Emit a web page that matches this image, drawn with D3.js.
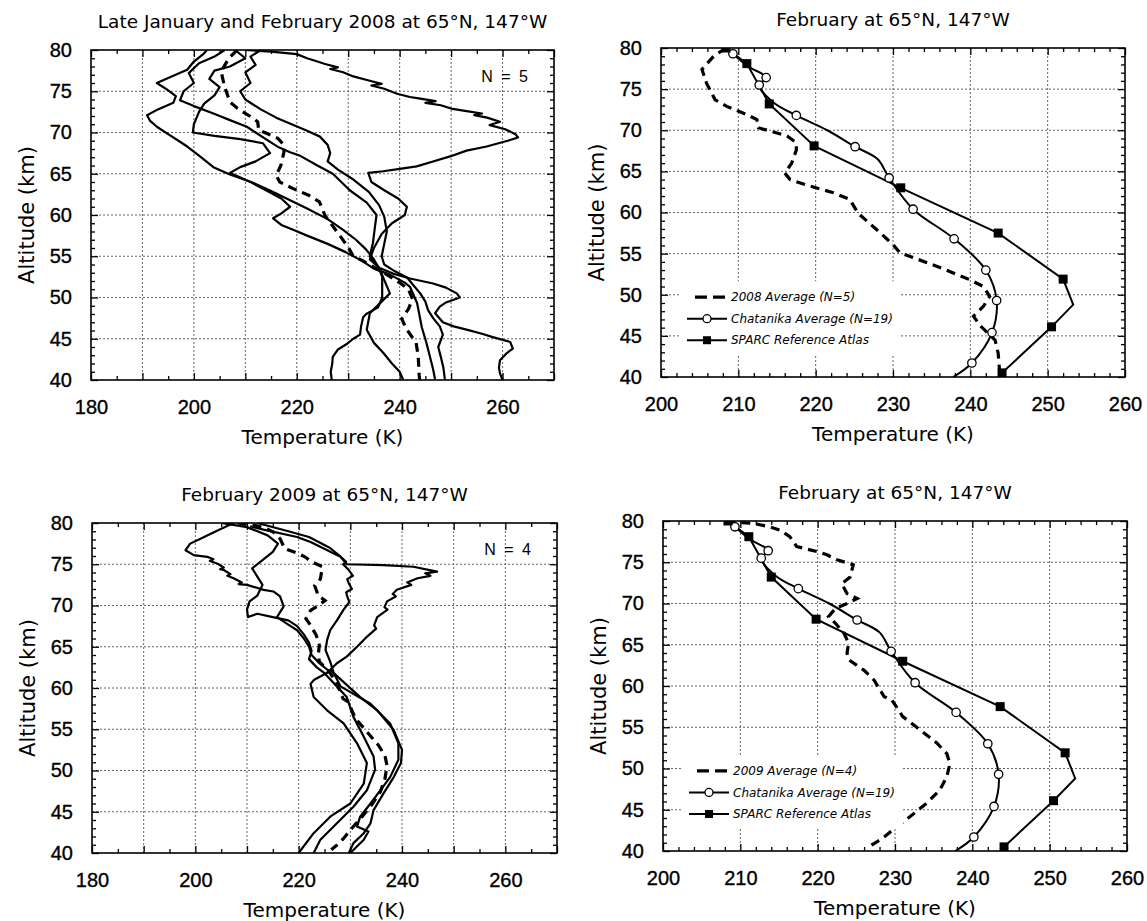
<!DOCTYPE html>
<html>
<head>
<meta charset="utf-8">
<script src="https://cdn.jsdelivr.net/npm/d3@7"></script>
<style>
  body { margin: 0; background: #fff; }
  text { font-family: "Comic Sans MS", "DejaVu Sans", sans-serif; fill: #000; }
  .num text, text.num { font-family: "Liberation Sans", Arial, sans-serif; }
</style>
</head>
<body>
<svg id="chart" width="1147" height="921"></svg>
<script>
// ---- data: [temperature K, altitude km] ----
// late Jan / Feb 2008 individual profiles
const prof08a = [[210,80],[215,79.8],[220,79.5],[222,79],[224,78.6],[225.5,78.3],[228,77.9],[226.5,77.7],[229,77.3],[231,76.8],[234,76.3],[236.5,75.9],[234.5,75.7],[237,75.3],[239.5,74.7],[242,74.3],[244,74.1],[247,73.8],[245,73.6],[248,73.3],[250,72.9],[253,72.6],[256,72.3],[254.5,72.1],[257,71.8],[259.5,71.3],[257.5,70.9],[260.5,70.4],[262.5,69.8],[263,69.4],[261,69],[256.9,68.3],[253,67.8],[249.8,67.1],[246,66.4],[243.3,65.9],[240,65.6],[236.8,65.3],[233.9,65.1],[234.5,64],[237,63],[239.7,62],[241.4,61],[241,60],[238.5,59],[236.5,57.7],[235,56],[234.2,54.6],[236,53.6],[238.7,52.9],[242,52.3],[246.5,51.7],[249,51.2],[251.1,50.5],[251.7,50],[249,49.4],[247.8,48.9],[246.9,48.1],[248.4,47],[250.5,46.5],[253,46.1],[256,45.6],[258.1,45.2],[261.5,44.6],[262,43.8],[260.9,43.3],[259.5,42.4],[259.3,41.5],[259.5,40.8],[260,40]];
const prof08b = [[202.5,80],[202,79.6],[200,78.6],[198.7,77.6],[195,76.6],[192.8,76],[194.8,75.2],[196.5,74.4],[196,73.6],[193,72.8],[190.9,72.1],[191.5,71.4],[192.8,70.7],[195,69.8],[197,69],[198.7,68.3],[201,67.2],[203.8,65.8],[207,64.9],[211.5,63.9],[215,62.9],[218.7,61.8],[222,60.8],[226,59.5],[229,58.2],[231.5,57],[233.5,55.8],[235,54.6],[236,53.5],[236.6,52.5],[236.6,51],[236.6,50],[235.8,48.8],[233.5,48],[232.9,47.6],[232.5,46.5],[232.3,45.5],[231,45],[229.8,44.4],[228,43.7],[227,42.8],[226.9,42],[226.6,41],[226.8,40]];
const prof08c = [[206,80],[204,79.2],[201,78.4],[199,77.2],[200,76],[198,75],[197.3,73.9],[200,73.2],[203.8,72.3],[207,71.5],[210.3,70.7],[212,70],[214.2,69.1],[216.5,68.2],[218.7,67.6],[220.6,67.2],[224,66],[227,65],[230.3,63],[233.6,61.5],[235.5,60],[235.2,58.6],[234.8,56.6],[234.2,55],[236,53.6],[238.1,50.5],[236,49.2],[234.2,48.1],[233.6,46.1],[235,44.5],[236.8,43.3],[238.5,42],[240,41],[240.7,40]];
const prof08d = [[208,80],[210,79],[207,78],[204,77.5],[203,76.5],[205,75.5],[204,74.5],[202,73.5],[201,72.5],[200,71],[199.8,70],[204,69.6],[209,69.2],[213.4,68.7],[214.8,67.5],[212,66.5],[209,65.8],[207,65.1],[208.5,64.7],[211,64],[214,63],[217,62],[218.7,61],[217,60.2],[215.4,59.6],[217,58.8],[219.3,58.2],[222,57.5],[226,56.5],[229.5,55.5],[232.5,54.5],[235,53.5],[238,52.8],[241,51.8],[242,51.3],[243.4,49.3],[244.3,46.4],[245.2,44.5],[245.9,42.8],[246.5,41.3],[246.9,40]];
const prof08e = [[213,80],[211,79.2],[212,78.2],[210,77.3],[211,76],[209,75],[210,74],[213,72.8],[216,71.8],[219,71],[222,70.2],[224.5,69.5],[226,68.5],[226.5,67.5],[226,66.5],[228,65.5],[231,64.3],[234,62.8],[236,61.2],[237,59.8],[237.5,58],[237,56.5],[236.5,55],[237,54],[239,53.2],[241.5,52.4],[242.5,51.6],[244,50.5],[245,49.5],[245.5,48.5],[246.5,47.5],[247.8,46.5],[248.4,45.5],[247.5,44],[248,42.8],[248.5,41.5],[248.8,40]];
const avg2008 = [[208.4,80],[206.8,79],[205.3,77.4],[205.9,75.7],[207,73.7],[208.5,72.9],[211.1,71.9],[212.4,71.3],[212.6,70.3],[214.1,69.9],[216.3,69.3],[217.5,68.5],[217.5,67.6],[216.9,66],[216,64.8],[216.7,64],[219.3,63.2],[222.3,62.4],[224.4,61.6],[225.5,59.9],[227.9,57.9],[230,56.1],[230.9,55.1],[234.4,53.9],[236.9,53],[240,51.8],[241.7,51],[242.5,49.8],[241.7,48.6],[240.4,47.4],[241.3,46.2],[243.2,44.5],[243.6,42.9],[243.8,40.5],[243.9,40]];

// February 2009 individual profiles
const prof09a = [[207.4,80],[204,79],[201,78.1],[199,77.5],[198.1,76.7],[199.7,76.1],[202.3,75.9],[203.5,75.6],[202.8,75.4],[204.2,75.1],[205.5,74.6],[204.8,74.4],[205.5,74.3],[206.8,73.8],[206.2,73.6],[207.4,73.3],[209,72.8],[208.4,72.6],[210,72.5],[213.2,71.9],[215.1,71.7],[216.4,71.1],[217.1,69.9],[215.8,68.6],[217.7,67.8],[219.7,67],[221,66],[222,65],[222.5,64],[224,63],[226,62],[223,61],[222.3,60.5],[222.9,58.9],[225.5,57.3],[228.7,55.7],[231.3,53.3],[233.2,50.9],[232.6,48.4],[230,46],[226.1,44.4],[222.9,42.4],[220,40]];
const prof09b = [[212,80],[218,79],[222,78.3],[226,77],[228,76],[229.3,75],[236.4,74.9],[242.2,74.7],[246.8,74.1],[244.5,73.9],[245.5,73.6],[243,73.3],[241,72.8],[241.8,72.5],[239,71.9],[238.2,71.4],[238.8,71.1],[237.1,70.5],[236.6,69.8],[237.2,69.5],[235.2,68.6],[234.6,67.6],[235,67.2],[233.2,66.2],[231.3,65],[229.3,63.8],[227.4,63],[226.1,62.2],[231.9,58.9],[235.2,57.3],[238.4,54.9],[240,52.5],[239.8,50.9],[238.4,49.2],[236.4,47.2],[234.5,45.2],[233.9,43.6],[232.6,42.4],[230.6,41.2],[229.7,40]];
const prof09c = [[205,80],[210,79.5],[214,78.5],[216,77.5],[215,76.5],[213,75.5],[211,74.5],[212,73.5],[213,72.5],[212,71.2],[210.5,70.5],[210,69.5],[210.2,68.6],[212,69],[215,68.6],[218,68.2],[219.7,67.5],[221,66.5],[222,65.5],[222.5,64.5],[222,63.5],[223.5,62.5],[225,61.8],[229.3,58.9],[230.6,56.5],[232.6,54.1],[234.5,51.7],[234.8,50.1],[233.2,47.6],[230.6,45.6],[227.4,43.6],[224.2,41.6],[222.9,40]];
const prof09d = [[210.6,79.6],[213.2,79.2],[219.7,78.3],[222.3,77.7],[228.1,75.9],[229.2,75.3],[228.6,75],[229.7,74.3],[230.5,73.6],[229.4,73.2],[229.7,72.7],[230.3,72],[229.2,71.6],[229.4,71.1],[229.8,70.4],[228.7,69.5],[227.4,68.2],[226.1,67],[225.5,65.8],[225.2,64.6],[226.1,63.2],[226.8,61.8],[228.1,60.2],[233.9,58.1],[237.7,55.7],[239.3,53.3],[239.3,51.3],[237.7,49.2],[235.8,47.6],[233.9,46],[231.9,44.4],[231.3,43.2],[233.5,42.6],[232.6,41.6],[230,40]];
const avg2009 = [[208.2,80],[210,79.8],[211.7,79.7],[213.8,79.3],[215.1,78.9],[216.4,78.1],[217.3,76.9],[219.9,76.3],[221.2,75.9],[222.5,75.3],[224.6,74.7],[224.2,73.2],[223.1,72.4],[223.8,71.2],[225.1,70.6],[223.8,70],[222.3,69.4],[221.4,68.4],[222.3,67.6],[223.4,66.4],[224,65.2],[223.8,64],[224,63.2],[226,61.9],[227.3,60.7],[228.6,58.7],[229.6,58.3],[231,56.3],[233.2,54.7],[235.4,53.1],[236.7,51.8],[237.1,50.6],[236.7,49],[235.8,47.4],[234.1,45.8],[232,44.2],[230.3,43],[228.6,41.7],[227.3,40.9],[226.3,40.4]];

// climatologies (same in both right-hand panels)
const chatanika = [[208.7,79.8],[209.3,79.3],[211.2,77.8],[213.6,76.4],[212.7,75.5],[214.5,73.4],[217.5,71.8],[221.5,70],[225.1,68],[228,66.5],[229.5,64.2],[232.6,60.4],[237.9,56.8],[242,53],[243.4,49.3],[242.8,45.4],[240.2,41.7],[237.8,40]];
const chatanikaMarks = [1, 3, 4, 6, 8, 10, 11, 12, 13, 14, 15, 16];
const sparc = [[208.4,80],[211.1,78.1],[214,73.2],[219.8,68.1],[231,63],[243.6,57.5],[252,51.9],[253.3,48.8],[250.5,46.1],[244.1,40.5],[243.8,40]];
const sparcMarks = [0, 1, 2, 3, 4, 5, 6, 8, 9];

const altTicks = [40, 45, 50, 55, 60, 65, 70, 75, 80];
const leftTempTicks = [180, 200, 220, 240, 260];
const rightTempTicks = [200, 210, 220, 230, 240, 250, 260];

// ---- layout ----
const svg = d3.select('#chart');

const panels = [
  { left: 91, top: 50, width: 463, height: 330, xDomain: [180, 270], labels: leftTempTicks, grid: 10, minor: 5,
    title: 'Late January and February 2008 at 65°N, 147°W', profiles: [prof08a, prof08b, prof08c, prof08d, prof08e], avg: avg2008, count: 'N = 5' },
  { left: 661, top: 48, width: 464, height: 329, xDomain: [200, 260], labels: rightTempTicks, grid: 10, minor: 2,
    title: 'February at 65°N, 147°W', avg: avg2008, legendName: '2008 Average (N=5)' },
  { left: 92, top: 523, width: 465, height: 330, xDomain: [180, 270], labels: leftTempTicks, grid: 10, minor: 5,
    title: 'February 2009 at 65°N, 147°W', profiles: [prof09a, prof09b, prof09c, prof09d], avg: avg2009, count: 'N = 4' },
  { left: 663, top: 521, width: 464, height: 330, xDomain: [200, 260], labels: rightTempTicks, grid: 10, minor: 2,
    title: 'February at 65°N, 147°W', avg: avg2009, legendName: '2009 Average (N=4)' }
];

panels.forEach(drawPanel);

function drawPanel(p) {
  const g = svg.append('g').attr('transform', `translate(${p.left},${p.top})`);
  const x = d3.scaleLinear().domain(p.xDomain).range([0, p.width]);
  const y = d3.scaleLinear().domain([40, 80]).range([p.height, 0]);

  const gridX = d3.range(p.xDomain[0] + p.grid, p.xDomain[1], p.grid);
  const gridY = d3.range(45, 80, 5);
  const minorX = d3.range(p.xDomain[0], p.xDomain[1] + 0.01, p.minor).filter(v => (v - p.xDomain[0]) % p.grid);
  const minorY = d3.range(40, 81, 1).filter(v => v % 5);
  const majorX = d3.range(p.xDomain[0], p.xDomain[1] + 0.01, p.grid);

  // dotted grid
  g.append('g').selectAll('line').data(gridX).join('line')
    .attr('x1', d => x(d)).attr('x2', d => x(d)).attr('y1', 0).attr('y2', p.height)
    .attr('stroke', '#666').attr('stroke-width', 1).attr('stroke-dasharray', '2,2');
  g.append('g').selectAll('line').data(gridY).join('line')
    .attr('y1', d => y(d)).attr('y2', d => y(d)).attr('x1', 0).attr('x2', p.width)
    .attr('stroke', '#666').attr('stroke-width', 1).attr('stroke-dasharray', '2,2');

  // ticks (inward, all four sides)
  const tickAxes = [
    [d3.axisBottom(x).tickValues(majorX).tickSize(-7), `translate(0,${p.height})`],
    [d3.axisBottom(x).tickValues(minorX).tickSize(-4), `translate(0,${p.height})`],
    [d3.axisTop(x).tickValues(majorX).tickSize(-7), 'translate(0,0)'],
    [d3.axisTop(x).tickValues(minorX).tickSize(-4), 'translate(0,0)'],
    [d3.axisLeft(y).tickValues(altTicks).tickSize(-7), 'translate(0,0)'],
    [d3.axisLeft(y).tickValues(minorY).tickSize(-4), 'translate(0,0)'],
    [d3.axisRight(y).tickValues(altTicks).tickSize(-7), `translate(${p.width},0)`],
    [d3.axisRight(y).tickValues(minorY).tickSize(-4), `translate(${p.width},0)`]
  ];
  tickAxes.forEach(([ax, tr]) => {
    const a = g.append('g').attr('transform', tr).call(ax.tickFormat(''));
    a.select('.domain').remove();
    a.selectAll('line').attr('stroke', '#000').attr('stroke-width', 1.3);
  });

  // tick labels
  const lx = g.append('g').attr('class', 'num').attr('transform', `translate(0,${p.height})`)
    .call(d3.axisBottom(x).tickValues(p.labels).tickSize(0).tickPadding(20).tickFormat(d3.format('d')));
  lx.select('.domain').remove();
  lx.selectAll('text').attr('font-size', 20).attr('stroke', '#000').attr('stroke-width', 0.35);
  const ly = g.append('g').attr('class', 'num')
    .call(d3.axisLeft(y).tickValues(altTicks).tickSize(0).tickPadding(19).tickFormat(d3.format('d')));
  ly.select('.domain').remove();
  ly.selectAll('text').attr('font-size', 20).attr('stroke', '#000').attr('stroke-width', 0.35);

  // frame
  g.append('rect').attr('width', p.width).attr('height', p.height)
    .attr('fill', 'none').attr('stroke', '#000').attr('stroke-width', 1.6);

  const line = d3.line().x(d => x(d[0])).y(d => y(d[1]));
  const clipId = 'clip' + p.left + p.top;
  g.append('clipPath').attr('id', clipId).append('rect')
    .attr('width', p.width).attr('height', p.height);
  const data = g.append('g').attr('clip-path', `url(#${clipId})`);

  if (p.profiles) {
    data.selectAll('path.prof').data(p.profiles).join('path')
      .attr('class', 'prof').attr('d', line)
      .attr('fill', 'none').attr('stroke', '#000').attr('stroke-width', 2.2).attr('stroke-linejoin', 'round');
  }
  data.append('path').datum(p.avg).attr('d', line)
    .attr('fill', 'none').attr('stroke', '#000').attr('stroke-width', 3.2).attr('stroke-dasharray', '9,6');

  if (!p.profiles) {
    const smooth = d3.line().x(d => x(d[0])).y(d => y(d[1])).curve(d3.curveCatmullRom);
    data.append('path').datum(chatanika).attr('d', smooth)
      .attr('fill', 'none').attr('stroke', '#000').attr('stroke-width', 2);
    data.append('path').datum(sparc).attr('d', line)
      .attr('fill', 'none').attr('stroke', '#000').attr('stroke-width', 2);
    data.selectAll('circle').data(chatanikaMarks.map(i => chatanika[i])).join('circle')
      .attr('cx', d => x(d[0])).attr('cy', d => y(d[1])).attr('r', 4.2)
      .attr('fill', '#fff').attr('stroke', '#000').attr('stroke-width', 1.3);
    data.selectAll('rect.sq').data(sparcMarks.map(i => sparc[i])).join('rect')
      .attr('class', 'sq')
      .attr('x', d => x(d[0]) - 4.5).attr('y', d => y(d[1]) - 4.5).attr('width', 9).attr('height', 9)
      .attr('fill', '#000');

    // legend
    const lg = g.append('g').attr('transform', `translate(0,${y(49.7)})`);
    lg.append('rect').attr('x', 20).attr('y', -16).attr('width', 220).attr('height', 74).attr('fill', '#fff');
    const rows = [
      { name: p.legendName, kind: 'dash' },
      { name: 'Chatanika Average (N=19)', kind: 'circle' },
      { name: 'SPARC Reference Atlas', kind: 'square' }
    ];
    rows.forEach((r, i) => {
      const ry = i * 21.5;
      if (r.kind === 'dash') {
        lg.append('line').attr('x1', 34).attr('x2', 66).attr('y1', ry).attr('y2', ry)
          .attr('stroke', '#000').attr('stroke-width', 3.2).attr('stroke-dasharray', '12,6');
      } else {
        lg.append('line').attr('x1', 26).attr('x2', 66).attr('y1', ry).attr('y2', ry)
          .attr('stroke', '#000').attr('stroke-width', 2);
        if (r.kind === 'circle') {
          lg.append('circle').attr('cx', 46).attr('cy', ry).attr('r', 4)
            .attr('fill', '#fff').attr('stroke', '#000').attr('stroke-width', 1.3);
        } else {
          lg.append('rect').attr('x', 42).attr('y', ry - 4).attr('width', 8).attr('height', 8).attr('fill', '#000');
        }
      }
      lg.append('text').attr('x', 70).attr('y', ry).attr('dy', '0.35em')
        .attr('font-size', 12).attr('font-style', 'italic').text(r.name);
    });
  }

  if (p.count) {
    g.append('text').attr('class', 'num').attr('x', p.width - 24).attr('y', 32)
      .attr('text-anchor', 'end').attr('font-size', 16).attr('letter-spacing', 2)
      .text(p.count);
  }

  // titles
  g.append('text').attr('x', p.width / 2).attr('y', -22).attr('text-anchor', 'middle')
    .attr('font-size', 18.5).text(p.title);
  g.append('text').attr('x', p.width / 2).attr('y', p.height + 64).attr('text-anchor', 'middle')
    .attr('font-size', 20).text('Temperature (K)');
  g.append('text').attr('transform', `translate(${-57},${p.height / 2}) rotate(-90)`)
    .attr('text-anchor', 'middle').attr('font-size', 21).text('Altitude (km)');
}
</script>
</body>
</html>
